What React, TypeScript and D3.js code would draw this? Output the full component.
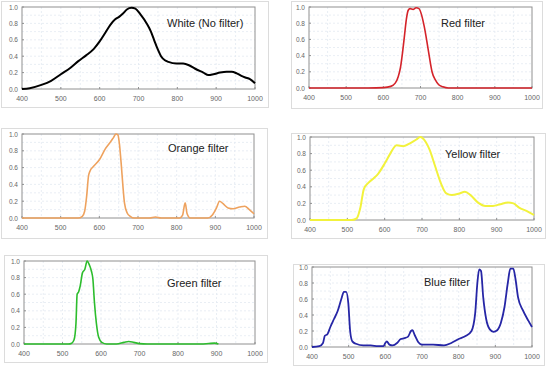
import React from 'react';
import * as d3 from 'd3';

// wavelength (nm), relative intensity
const whiteData: [number, number][] = [
  [400, 0.0], [420, 0.01], [450, 0.05], [475, 0.1], [500, 0.18], [525, 0.26], [545, 0.34], [565, 0.41],
  [585, 0.49], [600, 0.58], [615, 0.69], [627, 0.78], [640, 0.85], [650, 0.88], [660, 0.92], [670, 0.97],
  [682, 0.99], [692, 0.98], [705, 0.91], [721, 0.8], [732, 0.7], [740, 0.6], [750, 0.48], [758, 0.4],
  [768, 0.35], [777, 0.33], [798, 0.31], [815, 0.31], [830, 0.29], [845, 0.25], [867, 0.2], [880, 0.17],
  [893, 0.18], [910, 0.2], [927, 0.21], [940, 0.21], [953, 0.19], [965, 0.16], [975, 0.14], [987, 0.12], [1000, 0.07],
];
const redData: [number, number][] = [
  [400, 0.0], [560, 0.0], [600, 0.005], [620, 0.02], [632, 0.06], [640, 0.14], [646, 0.25], [652, 0.45],
  [657, 0.65], [662, 0.85], [667, 0.96], [672, 0.98], [680, 0.97], [688, 0.99], [696, 0.98], [703, 0.9],
  [710, 0.76], [717, 0.58], [724, 0.38], [731, 0.2], [740, 0.1], [749, 0.04], [760, 0.015], [775, 0.0], [1000, 0.0],
];
const orangeData: [number, number][] = [
  [400, 0.0], [545, 0.0], [556, 0.02], [562, 0.08], [567, 0.25], [572, 0.5], [576, 0.56], [584, 0.61],
  [601, 0.7], [615, 0.82], [628, 0.9], [637, 0.96], [643, 1.0], [648, 0.99], [652, 0.88], [657, 0.62],
  [661, 0.38], [665, 0.18], [672, 0.06], [680, 0.02], [690, 0.0], [730, 0.0], [745, 0.012], [760, 0.0],
  [808, 0.0], [815, 0.03], [822, 0.18], [827, 0.05], [835, 0.0], [880, 0.0], [893, 0.04], [903, 0.12],
  [911, 0.2], [920, 0.17], [933, 0.12], [946, 0.11], [963, 0.13], [976, 0.14], [988, 0.1], [1000, 0.05],
];
const yellowData: [number, number][] = [
  [400, 0.0], [512, 0.0], [525, 0.02], [535, 0.15], [544, 0.37], [557, 0.45], [570, 0.5], [583, 0.56],
  [600, 0.68], [615, 0.8], [632, 0.9], [650, 0.89], [670, 0.93], [685, 0.97], [695, 1.0], [710, 0.94],
  [720, 0.85], [735, 0.65], [750, 0.45], [765, 0.32], [780, 0.3], [800, 0.32], [815, 0.34], [830, 0.3],
  [850, 0.21], [870, 0.17], [890, 0.17], [910, 0.19], [930, 0.21], [945, 0.2], [960, 0.15], [980, 0.11], [1000, 0.06],
];
const greenData: [number, number][] = [
  [400, 0.0], [515, 0.0], [524, 0.01], [530, 0.05], [535, 0.25], [538, 0.6], [542, 0.63], [546, 0.7],
  [552, 0.86], [558, 0.9], [564, 1.0], [570, 0.95], [575, 0.88], [579, 0.78], [583, 0.5], [588, 0.25],
  [594, 0.08], [602, 0.02], [615, 0.0], [640, 0.0], [660, 0.02], [672, 0.03], [685, 0.02], [700, 0.005],
  [720, 0.0], [860, 0.0], [880, 0.006], [895, 0.01], [905, 0.0],
];
const blueData: [number, number][] = [
  [400, 0.0], [420, 0.01], [430, 0.05], [435, 0.14], [442, 0.16], [450, 0.25], [460, 0.35], [470, 0.45],
  [480, 0.6], [487, 0.69], [493, 0.69], [499, 0.55], [504, 0.2], [510, 0.07], [520, 0.04], [540, 0.02],
  [560, 0.02], [580, 0.01], [595, 0.01], [600, 0.05], [604, 0.07], [611, 0.03], [620, 0.02], [632, 0.05],
  [642, 0.1], [652, 0.11], [662, 0.13], [670, 0.2], [674, 0.21], [680, 0.15], [690, 0.06], [700, 0.03],
  [730, 0.03], [760, 0.02], [780, 0.05], [800, 0.1], [820, 0.14], [835, 0.2], [845, 0.42], [851, 0.8],
  [856, 0.97], [861, 0.95], [867, 0.62], [875, 0.35], [885, 0.22], [895, 0.19], [905, 0.21], [915, 0.3],
  [925, 0.5], [934, 0.8], [941, 0.98], [949, 0.98], [955, 0.85], [962, 0.62], [975, 0.46], [990, 0.33], [1000, 0.25],
];

const xTicks = [400, 500, 600, 700, 800, 900, 1000];
const yTicks = [0, 0.2, 0.4, 0.6, 0.8, 1.0];

interface PanelSpec {
  title: string;
  data: [number, number][];
  color: string;
  width: number;
  box: [number, number, number, number];
  plot: [number, number, number, number];
  titlePos: [number, number];
}

const panels: PanelSpec[] = [
  { title: 'White (No filter)', data: whiteData, color: '#000000', width: 2, box: [1, 1, 268, 107], plot: [22, 7, 255, 89], titlePos: [167, 27] },
  { title: 'Red filter', data: redData, color: '#d4232a', width: 1.6, box: [291, 1, 542, 108], plot: [309, 7, 532, 88], titlePos: [441, 27] },
  { title: 'Orange filter', data: orangeData, color: '#eea25e', width: 1.6, box: [1, 128, 267, 238], plot: [22, 134, 254, 218], titlePos: [168, 152] },
  { title: 'Yellow filter', data: yellowData, color: '#f2f23c', width: 2, box: [291, 133, 545, 238], plot: [310, 137, 534, 220], titlePos: [445, 158] },
  { title: 'Green filter', data: greenData, color: '#2dbd2d', width: 1.6, box: [4, 255, 267, 362], plot: [24, 261, 255, 344], titlePos: [167, 287] },
  { title: 'Blue filter', data: blueData, color: '#2626a6', width: 1.8, box: [293, 264, 544, 365], plot: [312, 267, 532, 347], titlePos: [424, 286] },
];

const Panel: React.FC<{ p: PanelSpec }> = ({ p }) => {
  const [x0, y0, x1, y1] = p.plot;
  const x = d3.scaleLinear().domain([400, 1000]).range([x0, x1]);
  const y = d3.scaleLinear().domain([0, 1]).range([y1, y0]);
  const line = d3.line<[number, number]>()
    .x(d => x(d[0]))
    .y(d => y(d[1]))
    .curve(d3.curveMonotoneX);
  const gridX = d3.range(450, 1000, 50);
  const gridY = d3.range(0.1, 1.0, 0.1);
  const [bx0, by0, bx1, by1] = p.box;

  return (
    <g>
      <rect x={bx0 + 0.5} y={by0 + 0.5} width={bx1 - bx0} height={by1 - by0} fill="#fff" stroke="#dcdcdc" />
      {gridX.map(v => (
        <line key={'gx' + v} x1={x(v)} x2={x(v)} y1={y0} y2={y1} stroke="#e3eaf1" strokeWidth={0.8} strokeDasharray="2,2" />
      ))}
      {gridY.map(v => (
        <line key={'gy' + v} x1={x0} x2={x1} y1={y(v)} y2={y(v)} stroke="#e3eaf1" strokeWidth={0.8} strokeDasharray="2,2" />
      ))}
      <rect x={x0} y={y0} width={x1 - x0} height={y1 - y0} fill="none" stroke="#909090" strokeWidth={1} />
      {xTicks.map(t => (
        <g key={'xt' + t}>
          <line x1={x(t)} x2={x(t)} y1={y1} y2={y1 - 2} stroke="#909090" />
          <text x={x(t)} y={y1 + 12} textAnchor="middle" fontSize={7} fill="#666">{t}</text>
        </g>
      ))}
      {yTicks.map(t => (
        <g key={'yt' + t}>
          <line x1={x0} x2={x0 + 2} y1={y(t)} y2={y(t)} stroke="#909090" />
          <text x={x0 - 4} y={y(t) + 2.5} textAnchor="end" fontSize={6.5} fill="#666">{d3.format('.1f')(t)}</text>
        </g>
      ))}
      <path d={line(p.data) || ''} fill="none" stroke={p.color} strokeWidth={p.width} strokeLinejoin="round" />
      <text x={p.titlePos[0]} y={p.titlePos[1]} fontSize={11} fill="#222">{p.title}</text>
    </g>
  );
};

const App: React.FC = () => (
  <svg width={550} height={370} style={{ position: 'absolute', left: 0, top: 0, fontFamily: 'Liberation Sans, Arial, sans-serif' }}>
    <rect width={550} height={370} fill="#fff" />
    {panels.map(p => <Panel key={p.title} p={p} />)}
  </svg>
);

export default App;
